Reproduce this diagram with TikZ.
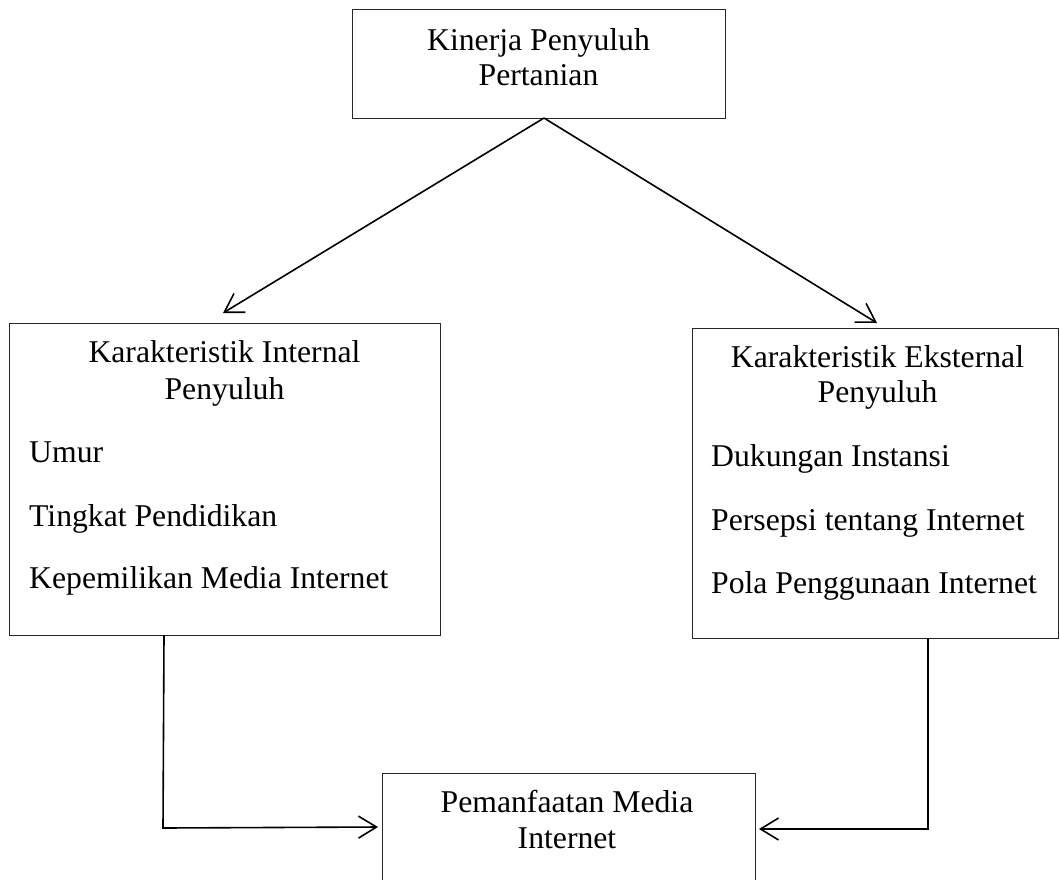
\documentclass[tikz,border=0pt]{standalone}
\usepackage{fontspec}
\setmainfont{Liberation Serif}
\usetikzlibrary{arrows.meta}
\tikzset{
  box/.style={draw=black!85, line width=1pt, rectangle, anchor=north west, inner sep=0pt, outer sep=0pt},
  txt/.style={inner sep=0pt, font=\fontsize{31.7}{36}\selectfont, align=center, anchor=base},
  item/.style={inner sep=0pt, font=\fontsize{31.7}{36}\selectfont, anchor=base west},
  conn/.style={line width=1.6pt, black},
  arr/.style={conn, -{Straight Barb[length=18pt,width=22pt,line width=1.6pt]}}
}
\begin{document}
\begin{tikzpicture}[x=1pt,y=-1pt]
\useasboundingbox (0,0) rectangle (1060,879);
% boxes
\node[box, minimum width=373pt, minimum height=109pt] (top) at (352,9) {};
\node[box, minimum width=431pt, minimum height=312pt] (int) at (9,323) {};
\node[box, minimum width=366pt, minimum height=310pt] (ext) at (692,328) {};
\node[box, minimum width=373pt, minimum height=130pt] (bot) at (382,773) {};
% texts
\node[txt] (topt1) at (538.5,50) {Kinerja Penyuluh};
\node[txt] (topt2) at (538.5,85) {Pertanian};
\node[txt] (intt1) at (224.5,362) {Karakteristik Internal};
\node[txt] (intt2) at (224.5,399) {Penyuluh};
\node[item] (int1) at (29,462) {Umur};
\node[item] (int2) at (29,526) {Tingkat Pendidikan};
\node[item] (int3) at (29,588) {Kepemilikan Media Internet};
\node[txt] (extt1) at (877.5,367) {Karakteristik Eksternal};
\node[txt] (extt2) at (877.5,402) {Penyuluh};
\node[item] (ext1) at (711,466) {Dukungan Instansi};
\node[item] (ext2) at (711,530) {Persepsi tentang Internet};
\node[item] (ext3) at (711,593) {Pola Penggunaan Internet};
\node[txt] (bott1) at (567,812) {Pemanfaatan Media};
\node[txt] (bott2) at (567,848) {Internet};
% connector points
\coordinate (apex) at (544,118);
\coordinate (tipL) at (223,313);
\coordinate (tipR) at (877,323);
\coordinate (l1) at (164,635);
\coordinate (l2) at (163,828);
\coordinate (tipBL) at (378,827);
\coordinate (r1) at (928,638);
\coordinate (r2) at (928,829);
\coordinate (tipBR) at (759,829);
% connectors
\draw[arr] (apex) -- (tipL);
\draw[arr] (apex) -- (tipR);
\draw[arr] (l1) -- (l2) -- (tipBL);
\draw[arr] (r1) -- (r2) -- (tipBR);
\end{tikzpicture}
\end{document}
